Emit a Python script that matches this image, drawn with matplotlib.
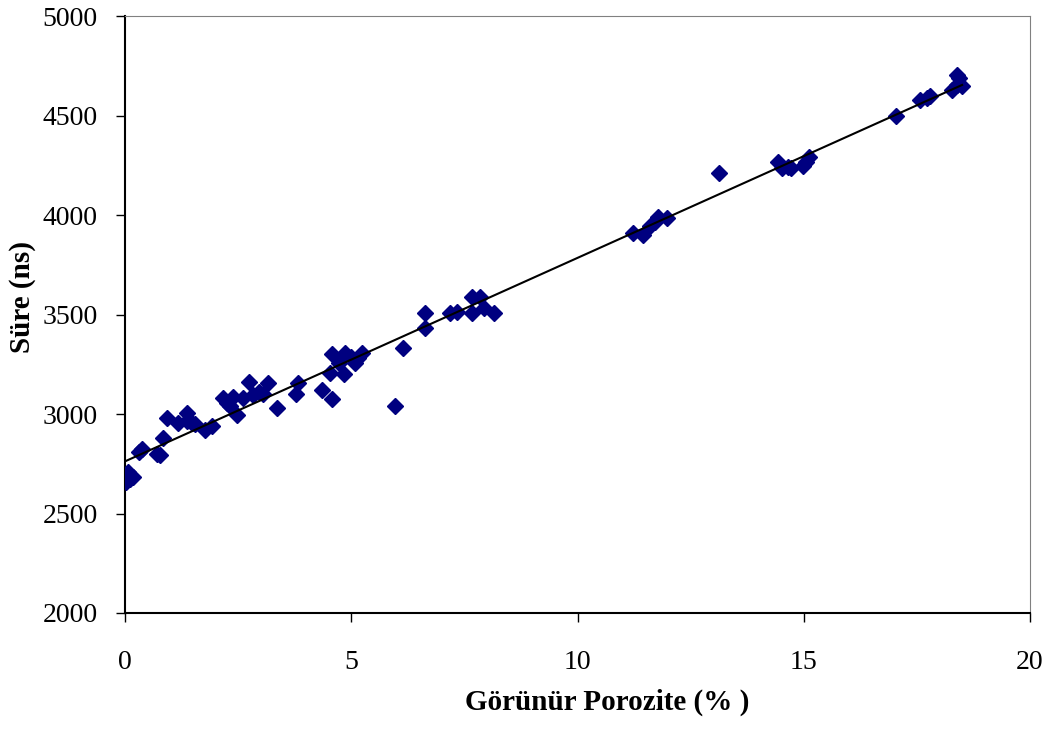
import matplotlib
matplotlib.use("Agg")
import matplotlib.pyplot as plt
import numpy as np

porozite = [0.02, 0.07, 0.18, 0.12, 0.31, 0.38, 0.71, 0.77, 0.84, 0.93, 1.17, 1.37, 1.37, 1.48, 1.55,
            1.77, 1.92, 2.16, 2.25, 2.32, 2.39, 2.47, 2.6, 2.74, 2.83, 2.96, 3.05, 3.16, 3.35, 3.79,
            3.82, 4.35, 4.53, 4.57, 4.57, 4.73, 4.84, 4.86, 5.0, 5.08, 5.15, 5.24, 5.97, 6.14, 6.63,
            6.63, 7.18, 7.34, 7.67, 7.67, 7.85, 7.93, 8.15, 11.23, 11.45, 11.6, 11.71, 11.78, 11.98,
            13.13, 14.43, 14.52, 14.65, 14.72, 14.98, 15.05, 15.12, 17.04, 17.57, 17.72, 17.79,
            18.28, 18.39, 18.39, 18.43, 18.5]
sure = [2658, 2708, 2683, 2675, 2809, 2824, 2799, 2794, 2879, 2980, 2955, 3005, 2965, 2955, 2950,
        2920, 2940, 3080, 3055, 3040, 3085, 2995, 3080, 3160, 3095, 3110, 3100, 3155, 3030, 3100,
        3155, 3120, 3206, 3300, 3075, 3256, 3200, 3306, 3285, 3256, 3280, 3306, 3040, 3331, 3508,
        3432, 3508, 3513, 3588, 3508, 3588, 3533, 3508, 3910, 3900, 3945, 3965, 3990, 3985,
        4211, 4266, 4236, 4241, 4235, 4246, 4265, 4291, 4497, 4578, 4588, 4598,
        4628, 4704, 4653, 4688, 4648]

xticks = [0, 5, 10, 15, 20]
yticks = [2000, 2500, 3000, 3500, 4000, 4500, 5000]

plt.rcParams['font.family'] = ['Liberation Serif', 'DejaVu Serif']

fig = plt.figure(figsize=(10.56, 7.31), dpi=100)
ax = fig.add_axes([125/1056, 1-613/731, (1030-125)/1056, (613-16)/731])

x = np.array(porozite)
y = np.array(sure)
ax.plot(x, y, linestyle='none', marker='D', markersize=8.5, color='#000080', zorder=3)

coef = np.polyfit(x, y, 1)
xs = np.array([x.min(), x.max()])
ax.plot(xs, np.polyval(coef, xs), color='black', linewidth=1.5, zorder=4)

ax.set_xlim(0, 20)
ax.set_ylim(2000, 5000)
ax.set_xticks(xticks)
ax.set_yticks(yticks)
ax.tick_params(axis='both', labelsize=20, direction='out', length=6.5, width=1.0, color='black')
ax.tick_params(axis='x', pad=20)
ax.tick_params(axis='y', pad=13)

ax.spines['left'].set_color('black')
ax.spines['left'].set_linewidth(1.5)
ax.spines['bottom'].set_color('black')
ax.spines['bottom'].set_linewidth(1.5)
ax.spines['top'].set_color('#808080')
ax.spines['right'].set_color('#808080')

ax.set_xlabel('Görünür Porozite (% )', fontsize=21, fontweight='bold', va='center', ha='center')
ax.set_ylabel('Süre (ns)', fontsize=21, fontweight='bold', va='center', ha='center')
ax.xaxis.set_label_coords((607-125)/905, (613-702)/597)
ax.yaxis.set_label_coords((22-125)/905, (613-297)/597)

fig.savefig('out.png', dpi=100)
